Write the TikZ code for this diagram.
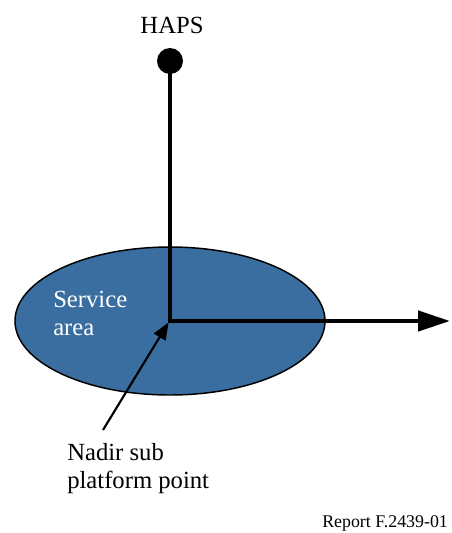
\documentclass[tikz,border=0pt]{standalone}
\usepackage{fontspec}
\setmainfont{Liberation Serif}
\usetikzlibrary{arrows.meta}
\definecolor{areablue}{RGB}{58,110,160}
\tikzset{
  lbl/.style={inner sep=0pt, font=\fontsize{18.5}{20.5}\selectfont, align=left},
  axis/.style={line width=3.4pt},
}
\begin{document}
\begin{tikzpicture}[x=0.75pt,y=-0.75pt]
\useasboundingbox (0,0) rectangle (452,533);
\fill[white] (0,0) rectangle (452,533);
% service area ellipse
\draw[fill=areablue, line width=1.1pt] (170,321) ellipse [x radius=155, y radius=74];
% nodes
\node[circle, fill=black, minimum width=19.5pt, minimum height=18pt, inner sep=0pt] (haps) at (170,61) {};
\coordinate (nadir) at (170,321);
\coordinate (east) at (450,321);
\coordinate (ptr) at (103,430);
\node[lbl, anchor=base] (hapslbl) at (172,33) {HAPS};
\node[lbl, anchor=base west, text=white] (svc) at (53,335) {Service\\area};
\node[lbl, anchor=base west] (nad) at (67,488) {Nadir sub\\platform point};
\node[inner sep=0pt, anchor=base west, font=\fontsize{13.4}{15}\selectfont] (rep) at (322,527) {Report F.2439-01};
% axes
\draw[axis, line cap=rect] (haps.south) -- (nadir);
\draw[axis, -{Triangle[length=24pt, width=15pt]}] ([xshift=-1.7pt]nadir) -- (east);
\draw[line width=1.6pt, -{Triangle[length=13pt, width=10pt]}] (ptr) -- ([xshift=-1pt, yshift=-1pt]nadir);
\end{tikzpicture}
\end{document}
